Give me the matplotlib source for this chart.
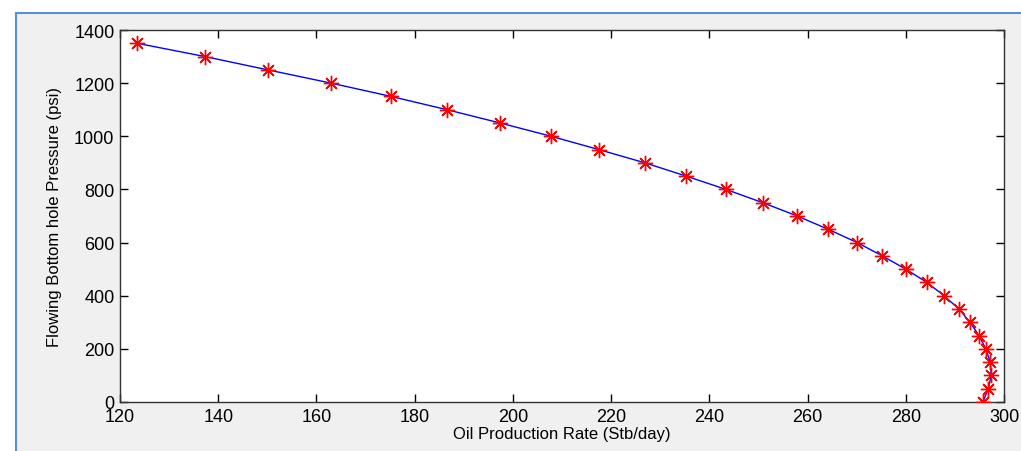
import matplotlib
matplotlib.use('Agg')
import matplotlib.pyplot as plt
from matplotlib.patches import Rectangle

# flowing bottom hole pressure (psi) and the oil rate
pwf = [1350, 1300, 1250, 1200, 1150, 1100, 1050, 1000, 950, 900, 850, 800, 750, 700,
       650, 600, 550, 500, 450, 400, 350, 300, 250, 200, 150, 100, 50, 0]
q_oil = [123.5, 137.3, 150.1, 163.0, 175.2, 186.6, 197.4, 207.8, 217.5, 226.9, 235.3,
         243.4, 250.9, 257.9, 264.2, 270.1, 275.2, 280.0, 284.3, 287.8, 290.8, 293.1,
         294.9, 296.3, 297.2, 297.4, 296.8, 295.7]

x_ticks = [120, 140, 160, 180, 200, 220, 240, 260, 280, 300]
y_ticks = [0, 200, 400, 600, 800, 1000, 1200, 1400]

plt.rcParams['font.family'] = ['Liberation Sans', 'DejaVu Sans']

fig = plt.figure(figsize=(10.21, 4.52), dpi=100, facecolor='white')

# window frame, like the matlab figure window in the screenshot
W, H = 1021.0, 452.0
fig.patches.append(Rectangle((16 / W, -0.01), 1.0, 1 - 14 / H + 0.01,
                             transform=fig.transFigure, facecolor='#f0f0f0',
                             edgecolor='#5b8fd2', linewidth=1.5, zorder=-10))

ax = fig.add_axes([120 / W, 1 - 403 / H, 884 / W, 372 / H])
ax.plot(q_oil, pwf, color='blue', linewidth=1.0, zorder=2)
# matlab style asterisk marker
ax.plot(q_oil, pwf, linestyle='none', marker=(8, 2, 0), markersize=11,
        markeredgecolor='red', markeredgewidth=1.0, zorder=3)

ax.set_xlim(120, 300)
ax.set_ylim(0, 1400)
ax.set_xticks(x_ticks)
ax.set_yticks(y_ticks)
ax.tick_params(direction='in', length=6, width=1, top=True, right=True,
               labelsize=13, pad=4, colors='black')
for s in ax.spines.values():
    s.set_linewidth(1.0)
    s.set_color('#333333')

ax.set_xlabel('Oil Production Rate (Stb/day)', fontsize=12, labelpad=1)
ax.set_ylabel('Flowing Bottom hole Pressure (psi)', fontsize=12, labelpad=9)

fig.savefig('out.png', dpi=100, facecolor=fig.get_facecolor())
